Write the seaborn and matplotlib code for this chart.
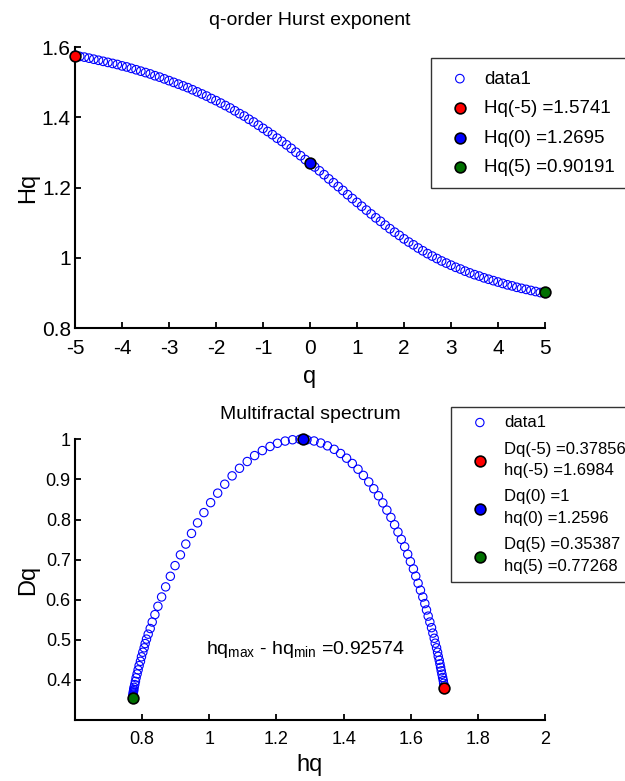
import numpy as np
import matplotlib
matplotlib.use("Agg")
import matplotlib.pyplot as plt
import seaborn as sns

# ---- data ----
q_values = [round(-5 + 0.1 * i, 1) for i in range(101)]

Hq_values = [
    1.577, 1.574, 1.572, 1.569, 1.566, 1.563, 1.560, 1.557, 1.554, 1.551,
    1.547, 1.544, 1.540, 1.536, 1.532, 1.528, 1.524, 1.519, 1.515, 1.510,
    1.505, 1.500, 1.495, 1.490, 1.485, 1.479, 1.473, 1.467, 1.461, 1.454,
    1.448, 1.441, 1.434, 1.427, 1.419, 1.411, 1.404, 1.395, 1.387, 1.378,
    1.369, 1.360, 1.351, 1.341, 1.332, 1.322, 1.312, 1.301, 1.291, 1.280,
    1.270, 1.259, 1.248, 1.237, 1.225, 1.214, 1.203, 1.192, 1.180, 1.169,
    1.158, 1.147, 1.136, 1.125, 1.114, 1.104, 1.093, 1.083, 1.073, 1.064,
    1.054, 1.045, 1.037, 1.028, 1.020, 1.012, 1.005, 0.998, 0.991, 0.985,
    0.979, 0.973, 0.968, 0.962, 0.957, 0.952, 0.948, 0.943, 0.939, 0.935,
    0.931, 0.927, 0.923, 0.920, 0.916, 0.913, 0.910, 0.907, 0.904, 0.901,
    0.899,
]

hq_values = [
    1.701, 1.701, 1.701, 1.700, 1.698, 1.697, 1.695, 1.693, 1.691, 1.689,
    1.687, 1.685, 1.682, 1.680, 1.677, 1.673, 1.670, 1.666, 1.662, 1.657,
    1.652, 1.647, 1.642, 1.636, 1.629, 1.622, 1.615, 1.608, 1.599, 1.591,
    1.582, 1.572, 1.562, 1.552, 1.541, 1.529, 1.517, 1.504, 1.490, 1.475,
    1.459, 1.443, 1.426, 1.409, 1.391, 1.372, 1.352, 1.332, 1.312, 1.291,
    1.270, 1.248, 1.226, 1.203, 1.181, 1.158, 1.135, 1.113, 1.090, 1.068,
    1.046, 1.025, 1.004, 0.984, 0.965, 0.947, 0.930, 0.914, 0.898, 0.884,
    0.870, 0.858, 0.847, 0.838, 0.830, 0.824, 0.818, 0.813, 0.809, 0.806,
    0.802, 0.798, 0.795, 0.791, 0.788, 0.785, 0.782, 0.780, 0.778, 0.776,
    0.7750, 0.7745, 0.7740, 0.7737, 0.7734, 0.7732, 0.7730, 0.7729, 0.7728, 0.7727,
    0.7727,
]

Dq_values = [
    0.3775, 0.3783, 0.3812, 0.3857, 0.3916, 0.3984, 0.4061, 0.4142, 0.4226, 0.4313,
    0.4400, 0.4490, 0.4587, 0.4690, 0.4800, 0.4915, 0.5038, 0.5167, 0.5302, 0.5443,
    0.5590, 0.5743, 0.5903, 0.6067, 0.6237, 0.6410, 0.6587, 0.6767, 0.6950, 0.7134,
    0.7320, 0.7505, 0.7688, 0.7870, 0.8052, 0.8234, 0.8414, 0.8592, 0.8767, 0.8937,
    0.9100, 0.9254, 0.9397, 0.9529, 0.9646, 0.9750, 0.9837, 0.9907, 0.9958, 0.9989,
    1.0000, 0.9989, 0.9956, 0.9900, 0.9821, 0.9719, 0.9594, 0.9446, 0.9277, 0.9088,
    0.8880, 0.8657, 0.8420, 0.8172, 0.7916, 0.7653, 0.7387, 0.7118, 0.6850, 0.6584,
    0.6320, 0.6068, 0.5836, 0.5628, 0.5443, 0.5281, 0.5140, 0.5017, 0.4906, 0.4800,
    0.4690, 0.4576, 0.4464, 0.4356, 0.4250, 0.4149, 0.4053, 0.3964, 0.3884, 0.3815,
    0.3760, 0.3730, 0.3700, 0.3672, 0.3646, 0.3622, 0.3600, 0.3582, 0.3566, 0.3552,
    0.3539,
]

# highlighted points
hurst_q = [-5, 0, 5]
hurst_H = [1.5741, 1.2695, 0.90191]
hurst_labels = ['Hq(-5) =1.5741', 'Hq(0) =1.2695', 'Hq(5) =0.90191']

spec_h = [1.6984, 1.28, 0.77268]
spec_D = [0.37856, 1.0, 0.35387]
spec_labels = ['Dq(-5) =0.37856\nhq(-5) =1.6984',
               'Dq(0) =1\nhq(0) =1.2596',
               'Dq(5) =0.35387\nhq(5) =0.77268']
point_colors = ['#ff0000', '#0000ff', '#007000']

x1_ticks = [-5, -4, -3, -2, -1, 0, 1, 2, 3, 4, 5]
y1_ticks = [0.8, 1, 1.2, 1.4, 1.6]
y1_ticklabels = ['0.8', '1', '1.2', '1.4', '1.6']
x2_ticks = [0.8, 1, 1.2, 1.4, 1.6, 1.8, 2]
x2_ticklabels = ['0.8', '1', '1.2', '1.4', '1.6', '1.8', '2']
y2_ticks = [0.4, 0.5, 0.6, 0.7, 0.8, 0.9, 1]
y2_ticklabels = ['0.4', '0.5', '0.6', '0.7', '0.8', '0.9', '1']

# ---- style ----
sns.set_theme(style="white")
plt.rcParams['font.family'] = ['Liberation Sans', 'DejaVu Sans']
plt.rcParams['mathtext.fontset'] = 'custom'
plt.rcParams['mathtext.rm'] = 'Liberation Sans'
plt.rcParams['text.color'] = 'black'
plt.rcParams['axes.labelcolor'] = 'black'
plt.rcParams['axes.titlecolor'] = 'black'
plt.rcParams['xtick.color'] = 'black'
plt.rcParams['ytick.color'] = 'black'

fig = plt.figure(figsize=(6.25, 7.81), dpi=100)
ax1 = fig.add_axes([75/625, 1-328/781, 470/625, (328-47.3)/781])
ax2 = fig.add_axes([75/625, 1-720/781, 470/625, (720-439.3)/781])

for ax in (ax1, ax2):
    ax.set_facecolor('white')
    for s in ('top', 'right'):
        ax.spines[s].set_visible(False)
    for s in ('left', 'bottom'):
        ax.spines[s].set_color('black')
        ax.spines[s].set_linewidth(1.5)
    ax.tick_params(direction='in', length=4, width=1.3, colors='black', left=True, bottom=True)

# ---- top: q-order Hurst exponent ----
sns.scatterplot(x=q_values, y=Hq_values, ax=ax1, marker='o', s=38, color='blue', linewidth=0.8,
                label='data1', clip_on=False, zorder=3)
ax1.collections[-1].set_facecolor('none')
ax1.collections[-1].set_edgecolor('blue')
for xq, yh, c, lab in zip(hurst_q, hurst_H, point_colors, hurst_labels):
    sns.scatterplot(x=[xq], y=[yh], ax=ax1, marker='o', s=60, color=c, edgecolor='black',
                    linewidth=1.2, clip_on=False, zorder=4, label=lab)
ax1.set_xlim(-5, 5)
ax1.set_ylim(0.8, 1.6)
ax1.set_xticks(x1_ticks)
ax1.set_xticklabels([str(t) for t in x1_ticks])
ax1.set_yticks(y1_ticks)
ax1.set_yticklabels(y1_ticklabels)
ax1.tick_params(labelsize=15, pad=3)
ax1.tick_params(axis='x', pad=8)
ax1.set_title('q-order Hurst exponent', fontsize=14, y=1.094, va='center', pad=0)
ax1.set_xlabel('q', fontsize=17, va='center')
ax1.xaxis.set_label_coords(0.5, -0.175)
ax1.set_ylabel('Hq', fontsize=17, va='center')
ax1.yaxis.set_label_coords(-0.1, 0.5)
leg1 = ax1.legend(loc='upper left', bbox_to_anchor=(0.757, 0.961), fontsize=13.5, frameon=True,
                  fancybox=False, edgecolor='black', borderpad=0.65, handlelength=1.8,
                  handletextpad=0.38, labelspacing=0.66, borderaxespad=0)
leg1.get_frame().set_linewidth(1.0)

# ---- bottom: multifractal spectrum ----
sns.scatterplot(x=hq_values, y=Dq_values, ax=ax2, marker='o', s=36, color='blue', linewidth=0.8,
                label='data1', clip_on=False, zorder=3)
ax2.collections[-1].set_facecolor('none')
ax2.collections[-1].set_edgecolor('blue')
for xh, yd, c, lab in zip(spec_h, spec_D, point_colors, spec_labels):
    sns.scatterplot(x=[xh], y=[yd], ax=ax2, marker='o', s=60, color=c, edgecolor='black',
                    linewidth=1.2, clip_on=False, zorder=4, label=lab)
ax2.set_xlim(0.6, 2)
ax2.set_ylim(0.3, 1.0)
ax2.set_xticks(x2_ticks)
ax2.set_xticklabels(x2_ticklabels)
ax2.set_yticks(y2_ticks)
ax2.set_yticklabels(y2_ticklabels)
ax2.tick_params(labelsize=13, pad=3)
ax2.tick_params(axis='x', pad=8)
ax2.set_title('Multifractal spectrum', fontsize=14, y=1.087, va='center', pad=0)
ax2.set_xlabel('hq', fontsize=17, va='center')
ax2.xaxis.set_label_coords(0.5, -0.16)
ax2.set_ylabel('Dq', fontsize=17, va='center')
ax2.yaxis.set_label_coords(-0.1, 0.5)
ax2.text(0.99, 0.475, r'hq$_{\mathrm{max}}$ - hq$_{\mathrm{min}}$ =0.92574', fontsize=14,
         ha='left', va='center')
leg2 = ax2.legend(loc='upper left', bbox_to_anchor=(0.799, 1.116), fontsize=12, frameon=True,
                  fancybox=False, edgecolor='black', borderpad=0.49, handlelength=2.54,
                  handletextpad=0.17, labelspacing=0.7, borderaxespad=0)
for t in leg2.get_texts():
    t.set_linespacing(1.52)
leg2.get_frame().set_linewidth(1.0)

fig.savefig('out.png', dpi=100, facecolor='white')
